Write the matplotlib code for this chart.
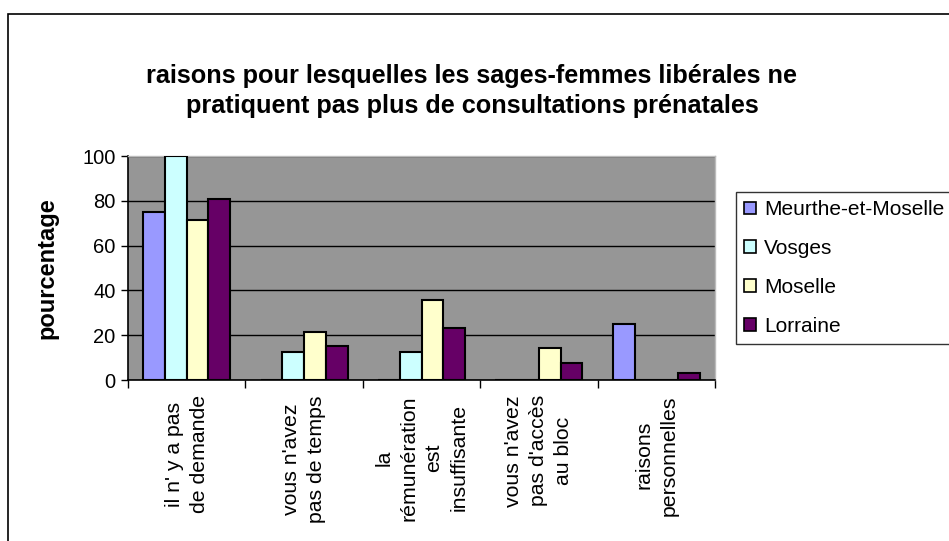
import numpy as np
import matplotlib.pyplot as plt
from matplotlib.patches import Rectangle

plt.rcParams['font.family'] = ['Liberation Sans', 'DejaVu Sans']

# Data
categories = ["il n' y a pas\nde demande",
              "vous n'avez\npas de temps",
              "la\nrémunération\nest\ninsuffisante",
              "vous n'avez\npas d'accès\nau bloc",
              "raisons\npersonnelles"]
series_names = ['Meurthe-et-Moselle', 'Vosges', 'Moselle', 'Lorraine']
meurthe = [75, 0, 0, 0, 25]
vosges = [100, 12.5, 12.5, 0, 0]
moselle = [71.4, 21.4, 35.7, 14.3, 0]
lorraine = [81, 15, 23, 7.7, 3.3]
colors = ['#9999FF', '#CCFFFF', '#FFFFCC', '#660066']

W, H = 949, 541
fig = plt.figure(figsize=(W / 100, H / 100), dpi=100)
fig.patch.set_facecolor('white')

# outer chart border (extends past right/bottom edge as in the reference)
fig.patches.append(Rectangle((8 / W, -0.05), 1.1, 1 - 14 / H + 0.05,
                             transform=fig.transFigure, fill=False,
                             edgecolor='black', linewidth=1.2))

ax = fig.add_axes([128 / W, 1 - 380 / H, (715 - 128) / W, (380 - 156) / H])
ax.set_facecolor('#969696')

x = np.arange(len(categories))
bw = 0.185
data = [meurthe, vosges, moselle, lorraine]
for i, (vals, name, c) in enumerate(zip(data, series_names, colors)):
    ax.bar(x + (i - 1.5) * bw, vals, width=bw, color=c, edgecolor='black',
           linewidth=1.5, label=name, zorder=3)

ax.set_xlim(-0.5, len(categories) - 0.5)
ax.set_ylim(0, 100)
ax.set_yticks([0, 20, 40, 60, 80, 100])
ax.yaxis.grid(True, color='black', linewidth=1.0, zorder=1)
ax.tick_params(axis='y', labelsize=14.5, length=5, width=1, pad=4, direction='out')

ax.set_xticks(np.arange(len(categories) + 1) - 0.5)
ax.set_xticklabels([])
ax.tick_params(axis='x', length=6, width=1, direction='out')
for xi, lab in zip(x, categories):
    ax.text(xi, -6.7, lab, rotation=90, ha='center', va='top', fontsize=15.3,
            multialignment='center', linespacing=1.4, clip_on=False)

for s in ['top', 'right']:
    ax.spines[s].set_color('#bbbbbb')
    ax.spines[s].set_linewidth(1)
ax.spines['left'].set_linewidth(1.2)
ax.spines['bottom'].set_linewidth(1.2)

ax.set_ylabel('pourcentage', fontsize=17, fontweight='bold', labelpad=17)

fig.text(472 / W, 1 - 91 / H,
         'raisons pour lesquelles les sages-femmes libérales ne\n'
         'pratiquent pas plus de consultations prénatales',
         ha='center', va='center', fontsize=18.2, fontweight='bold',
         linespacing=1.3)

leg = fig.legend(loc='upper left', bbox_to_anchor=(736 / W, 1 - 192 / H),
                 fontsize=15, frameon=True, fancybox=False, edgecolor='black',
                 handlelength=0.55, handleheight=0.55, handletextpad=0.4,
                 labelspacing=0.95, borderpad=0.4, borderaxespad=0)
leg.get_frame().set_linewidth(1)
for p in leg.get_patches():
    p.set_linewidth(1.2)

fig.savefig('out.png', dpi=100)
